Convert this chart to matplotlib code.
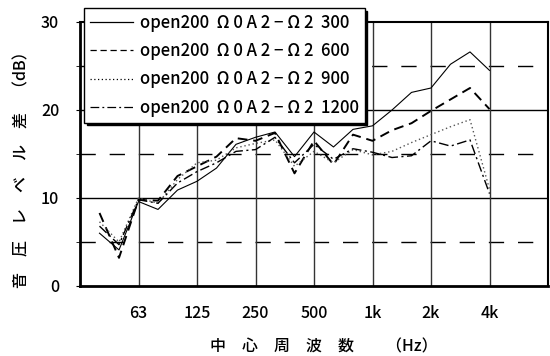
import numpy as np
import matplotlib
matplotlib.use('Agg')
import matplotlib.pyplot as plt

plt.rcParams['font.family'] = ['Noto Sans CJK JP', 'DejaVu Sans']
plt.rcParams['font.weight'] = 'medium'

# 1/3オクターブ帯域（40Hz〜4kHz）
bands = ['40', '50', '63', '80', '100', '125', '160', '200', '250', '315',
         '400', '500', '630', '800', '1k', '1.25k', '1.6k', '2k', '2.5k',
         '3.15k', '4k']
tick_bands = ['63', '125', '250', '500', '1k', '2k', '4k']

# 音圧レベル差 (dB)
d300 = [6.0, 4.1, 9.6, 8.7, 10.9, 11.9, 13.4, 16.1, 16.9, 17.5, 14.7,
        17.5, 15.8, 17.8, 18.2, 20.0, 22.0, 22.5, 25.2, 26.6, 24.5]
d600 = [8.3, 3.2, 9.8, 9.7, 12.5, 13.6, 14.7, 16.8, 16.5, 17.4, 12.8,
        16.5, 13.8, 17.2, 16.5, 17.7, 18.5, 19.9, 21.2, 22.5, 20.1]
d900 = [7.3, 5.0, 10.0, 9.4, 12.1, 14.0, 14.3, 15.7, 16.2, 16.6, 13.6,
        15.3, 14.0, 15.5, 14.9, 15.3, 16.3, 17.2, 18.1, 18.9, 11.0]
d1200 = [6.8, 4.7, 9.8, 9.4, 11.7, 13.0, 14.0, 15.3, 15.5, 16.9, 14.0,
         16.1, 14.4, 15.6, 15.2, 14.6, 14.8, 16.5, 15.9, 16.6, 10.5]

labels = ['open200  Ω 0 A 2 − Ω 2  300', 'open200  Ω 0 A 2 − Ω 2  600',
          'open200  Ω 0 A 2 − Ω 2  900', 'open200  Ω 0 A 2 − Ω 2  1200']

x = np.arange(len(bands)) + 1
fig = plt.figure(figsize=(5.5, 3.56), dpi=100)
ax = fig.add_axes([80 / 550, 70 / 356, 468 / 550, 264 / 356])

# 格子線
for v in [10, 20]:
    ax.axhline(v, color='k', lw=1.0, zorder=1)
for v in [5, 15, 25]:
    ax.axhline(v, color='k', lw=1.0, ls=(0, (11, 10)), zorder=1)
tick_pos = [x[bands.index(b)] for b in tick_bands]
for p in tick_pos:
    ax.axvline(p, color='#333333', lw=1.0, zorder=1)

ax.plot(x, d300, color='k', lw=0.8, ls='-', label=labels[0], zorder=3)
ax.plot(x, d600, color='k', lw=1.4, ls=(0, (5, 3)), label=labels[1], zorder=3)
ax.plot(x, d900, color='#555555', lw=1.0, ls=(0, (1, 2)), label=labels[2], zorder=3)
ax.plot(x, d1200, color='k', lw=1.0, ls=(0, (7, 2.5, 1.5, 2.5)), label=labels[3], zorder=3)

ax.set_xlim(0, 24)
ax.set_ylim(0, 30)
ax.set_xticks(tick_pos)
ax.set_xticklabels(tick_bands, fontsize=11.5)
ax.tick_params(axis='x', length=0, pad=14)
ax.set_yticks([0, 10, 20, 30])
ax.set_yticks([5, 15, 25], minor=True)
ax.tick_params(axis='y', which='both', direction='out', length=3, labelsize=11.5, pad=12)

for side in ['left', 'bottom']:
    ax.spines[side].set_linewidth(2.0)
for side in ['top', 'right']:
    ax.spines[side].set_linewidth(1.5)

fig.text(0.588, 1 - 347 / 356, '中　心　周　波　数　　（Hz）', fontsize=11.5,
         ha='center', va='center')
fig.text(0.04, 1 - 166 / 356, '音　圧　レ　ベ　ル　差　（dB）', fontsize=11.5,
         rotation=90, ha='center', va='center')

leg = ax.legend(loc='upper left', bbox_to_anchor=(84 / 550, 1 - 8 / 356),
                bbox_transform=fig.transFigure, borderaxespad=0,
                fontsize=12, handlelength=2.6, labelspacing=0.62,
                frameon=True, fancybox=False, edgecolor='k',
                shadow={'color': 'k', 'alpha': 1.0}, borderpad=0.35,
                handletextpad=0.4)
leg.get_frame().set_linewidth(1.0)
for line in leg.get_lines():
    line.set_linewidth(0.9)
    line.set_color('k')

fig.savefig('out.png', dpi=100)
